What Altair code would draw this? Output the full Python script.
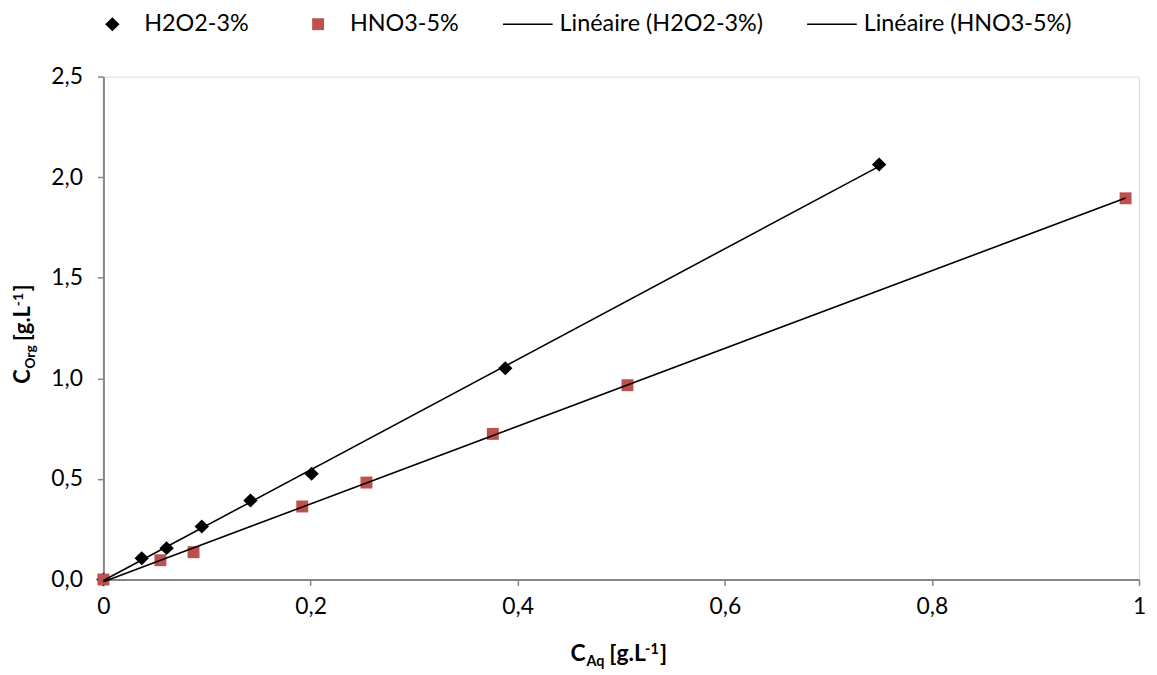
import altair as alt
import pandas as pd

# ---- data ----
h2o2_x = [0.0, 0.037, 0.061, 0.095, 0.142, 0.201, 0.388, 0.749]
h2o2_y = [0.0, 0.106, 0.156, 0.264, 0.393, 0.526, 1.050, 2.063]
hno3_x = [0.0, 0.055, 0.087, 0.192, 0.254, 0.376, 0.506, 0.987]
hno3_y = [0.0, 0.096, 0.136, 0.363, 0.482, 0.724, 0.966, 1.895]
series_names = ["H2O2-3%", "HNO3-5%"]
legend_names = ["H2O2-3%", "HNO3-5%", "Linéaire (H2O2-3%)", "Linéaire (HNO3-5%)"]
x_ticks = [0, 0.2, 0.4, 0.6, 0.8, 1.0]
y_ticks = [0, 0.5, 1.0, 1.5, 2.0, 2.5]

df = pd.concat([
    pd.DataFrame({"x": h2o2_x, "y": h2o2_y, "series": series_names[0]}),
    pd.DataFrame({"x": hno3_x, "y": hno3_y, "series": series_names[1]}),
], ignore_index=True)

FONT = "Lato"
W, H = 1042, 506
AXIS_GRAY = "#868686"
TICK_FS = 23

shape_paths = [
    "M-0.29,0L0,-0.28L0.29,0L0,0.28Z",
    "M-0.24,-0.24H0.24V0.24H-0.24Z",
    "M-1,-0.032H1V0.032H-1Z",
    "M-1,-0.032H1V0.032H-1Z",
]
colors = ["#000000", "#C0504D", "#000000", "#000000"]

xs = alt.Scale(domain=[0, 1], nice=False, zero=False)
ys = alt.Scale(domain=[0, 2.5], nice=False)

legend = alt.Legend(
    title=None, orient="none", legendX=-16, legendY=-78, direction="horizontal",
    symbolSize=2500, symbolStrokeWidth=0, labelFont=FONT, labelFontSize=23.5,
    labelColor="#000000", labelOffset=7, columnPadding=44, padding=0,
    labelLimit=400,
)

x_axis = alt.Axis(values=x_ticks, title=None, grid=False,
                  labelExpr="replace(format(datum.value, '~g'), '.', ',')",
                  labelFont=FONT, labelFontSize=TICK_FS, labelColor="#000000",
                  labelPadding=10, tickSize=6, tickColor=AXIS_GRAY, tickWidth=1.5,
                  domainColor=AXIS_GRAY, domainWidth=2, labelFlush=False)
y_axis = alt.Axis(values=y_ticks, title=None, grid=False,
                  labelExpr="replace(format(datum.value, '.1f'), '.', ',')",
                  labelFont=FONT, labelFontSize=TICK_FS, labelColor="#000000",
                  labelPadding=15, tickSize=6, tickColor=AXIS_GRAY, tickWidth=1.5,
                  domainColor=AXIS_GRAY, domainWidth=2)

points = alt.Chart(df).mark_point(filled=True, opacity=1, size=2500, strokeWidth=0).encode(
    x=alt.X("x:Q", scale=xs, axis=x_axis),
    y=alt.Y("y:Q", scale=ys, axis=y_axis),
    color=alt.Color("series:N", scale=alt.Scale(domain=legend_names, range=colors), legend=legend),
    shape=alt.Shape("series:N", scale=alt.Scale(domain=legend_names, range=shape_paths), legend=legend),
)

lines = alt.Chart(df).transform_regression(
    "x", "y", groupby=["series"]
).mark_line(color="#000000", strokeWidth=1.6).encode(
    x=alt.X("x:Q", scale=xs),
    y=alt.Y("y:Q", scale=ys),
    detail="series:N",
)

one = pd.DataFrame({"k": [0]})


def txt(text, x, y, size, angle=0):
    return alt.Chart(one).mark_text(
        text=text, font=FONT, fontSize=size, fontWeight="bold", color="#000000",
        align="left", baseline="alphabetic", angle=angle,
    ).encode(x=alt.value(x), y=alt.value(y))


BIG, SMALL = 23, 14.5
# x axis title: C_Aq [g.L^-1]
xt = [
    txt("C", 470, 588, BIG),
    txt("Aq", 486, 593, SMALL),
    txt("[g.L", 509, 588, BIG),
    txt("-1", 545, 581, SMALL),
    txt("]", 560, 588, BIG),
]
# y axis title (rotated): C_Org [g.L^-1]
YB, YS = 22, 14
yt = [
    txt("C", -74, 309, YB, angle=270),
    txt("Org", -69, 294, YS, angle=270),
    txt("[g.L", -74, 266, YB, angle=270),
    txt("-1", -81, 231, YS, angle=270),
    txt("]", -74, 216, YB, angle=270),
]

chart = alt.layer(points, lines, *xt, *yt).properties(
    width=W, height=H,
    autosize=alt.AutoSizeParams(type="none"),
    padding={"left": 96, "top": 67, "right": 10, "bottom": 90},
).configure_view(stroke="#D9D9D9", strokeWidth=1).configure(background="white")

chart.save("out.html", embed_options={"renderer": "svg", "actions": False})
